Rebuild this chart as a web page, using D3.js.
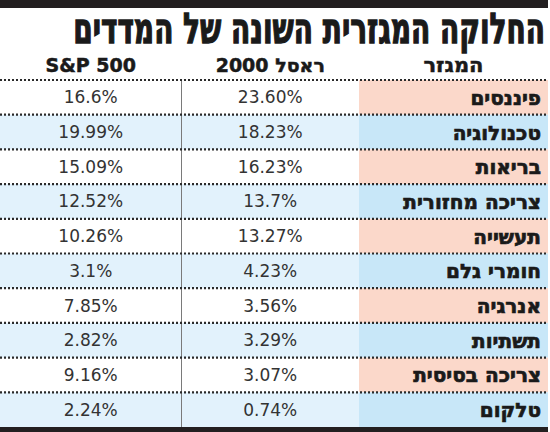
<!DOCTYPE html>
<html><head><meta charset="utf-8">
<script src="https://cdn.jsdelivr.net/npm/d3@7"></script>
<style>
html,body{margin:0;padding:0;background:#fff;}
svg{display:block;}
</style>
</head><body>
<script>
const title = "החלוקה המגזרית השונה של המדדים";
const columnHeaders = ["S&P 500", "ראסל 2000", "המגזר"];
const categories = ["פיננסים","טכנולוגיה","בריאות","צריכה מחזורית","תעשייה","חומרי גלם","אנרגיה","תשתיות","צריכה בסיסית","טלקום"];
const russell2000 = ["23.60%","18.23%","16.23%","13.7%","13.27%","4.23%","3.56%","3.29%","3.07%","0.74%"];
const sp500 = ["16.6%","19.99%","15.09%","12.52%","10.26%","3.1%","7.85%","2.82%","9.16%","2.24%"];

const W = 550, H = 432;
const svg = d3.select("body").append("svg").attr("width", W).attr("height", H);

const tableTop = 80, tableBottom = 427;
const y = d3.scaleBand().domain(categories).range([tableTop, tableBottom]).padding(0);
const colKeys = ["sp", "russell", "cat"];
const colEdges = {sp:[0,181.5], russell:[181.5,359], cat:[359,548]};
const colCenter = k => (colEdges[k][0] + colEdges[k][1]) / 2;

// top bar
svg.append("rect").attr("x",0).attr("y",0).attr("width",548).attr("height",8).attr("fill","#231f20");
// title, fitted to the reference width by a horizontal scale
const tg = svg.append("g");
const tt = tg.append("text").attr("x",0).attr("y",0)
  .attr("text-anchor","end")
  .style("font-family","'DejaVu Sans'").style("font-weight","bold").style("font-size","42px")
  .attr("fill","#1a1a1a").attr("stroke","#1a1a1a").attr("stroke-width",1.4)
  .text(title);
const tw = tt.node().getComputedTextLength();
tg.attr("transform",`translate(545,43) scale(${472/tw},1)`);

// headers
svg.selectAll("text.hdr").data(columnHeaders).join("text").attr("class","hdr")
  .attr("x",(d,i)=>colCenter(colKeys[i])).attr("y",72)
  .attr("text-anchor","middle")
  .style("direction",(d,i)=> i===0 ? "ltr" : "rtl")
  .style("font-family","'DejaVu Sans'").style("font-weight","bold")
  .style("font-size",(d,i)=> i===2 ? "21px" : "19px")
  .attr("fill","#1a1a1a").attr("stroke","#1a1a1a").attr("stroke-width",0.5)
  .text(d=>d);

const rows = categories.map((c,i)=>({cat:c, russell:russell2000[i], sp:sp500[i], i}));

// data cell backgrounds (alternating)
svg.selectAll("rect.databg").data(rows.filter(r=>r.i%2===1)).join("rect").attr("class","databg")
  .attr("x",0).attr("y",d=>y(d.cat)).attr("width",359).attr("height",y.bandwidth())
  .attr("fill","#e2f2fc");
// category backgrounds
svg.selectAll("rect.catbg").data(rows).join("rect").attr("class","catbg")
  .attr("x",359).attr("y",d=>y(d.cat)).attr("width",189).attr("height",y.bandwidth())
  .attr("fill",d=> d.i%2===0 ? "#fbd8ca" : "#c8e7f8");

// vertical divider
svg.append("line").attr("x1",181.5).attr("x2",181.5).attr("y1",tableTop).attr("y2",tableBottom)
  .attr("stroke","#7a7a7a").attr("stroke-width",1);

// dotted separators
const seps = [tableTop].concat(categories.slice(1).map(c=>y(c)));
svg.selectAll("line.sep").data(seps).join("line").attr("class","sep")
  .attr("x1",0).attr("x2",548).attr("y1",d=>d).attr("y2",d=>d)
  .attr("stroke","#2a2a2a").attr("stroke-width",2.2).attr("stroke-dasharray","2,2");

// bottom bar
svg.append("rect").attr("x",0).attr("y",tableBottom).attr("width",548).attr("height",5).attr("fill","#231f20");

// category labels
svg.selectAll("text.cat").data(rows).join("text").attr("class","cat")
  .attr("x",541).attr("y",d=>y(d.cat)+y.bandwidth()/2+7.5)
  .attr("text-anchor","start").style("direction","rtl")
  .style("font-family","'DejaVu Sans'").style("font-weight","bold").style("font-size","20px")
  .attr("fill","#1a1a1a").attr("stroke","#1a1a1a").attr("stroke-width",0.7)
  .text(d=>d.cat);

// values
["sp","russell"].forEach(k=>{
  svg.selectAll("text.v"+k).data(rows).join("text").attr("class","v"+k)
    .attr("x",colCenter(k)).attr("y",d=>y(d.cat)+y.bandwidth()/2+6)
    .attr("text-anchor","middle")
    .style("font-family","'DejaVu Sans'").style("font-size","17px")
    .attr("fill","#333").text(d=>d[k]);
});
</script>
</body></html>
